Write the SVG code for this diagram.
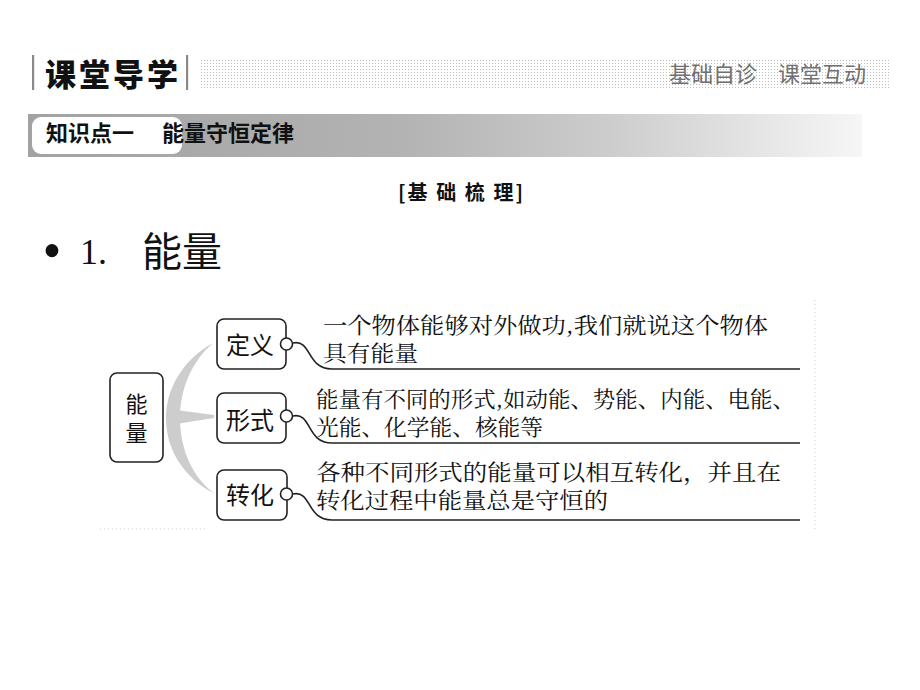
<svg xmlns="http://www.w3.org/2000/svg" width="920" height="690" viewBox="0 0 920 690">
<defs>
<pattern id="dots" x="0" y="0" width="3" height="3" patternUnits="userSpaceOnUse">
<rect x="0" y="0" width="1" height="1" fill="#bdbdbd"/>
</pattern>
<linearGradient id="band" x1="0" y1="0" x2="1" y2="0">
<stop offset="0" stop-color="#a2a2a2"/>
<stop offset="0.45" stop-color="#b3b3b3"/>
<stop offset="0.7" stop-color="#cdcdcd"/>
<stop offset="1" stop-color="#f6f6f6"/>
</linearGradient>
<style>
.cjk{font-family:"Noto Sans CJK SC","Noto Sans CJK JP",sans-serif;}
.song{font-family:"Noto Serif CJK SC","Liberation Serif","Noto Sans CJK SC",serif;font-size:22px;fill:#111;}
.box{fill:#fff;stroke:#222;stroke-width:1.6;}
.knob{fill:#fff;stroke:#222;stroke-width:1.6;}
.conn{fill:none;stroke:#222;stroke-width:1.6;}
.lbl{font-size:24px;text-anchor:middle;}
</style>
</defs>
<rect width="920" height="690" fill="#fff"/>

<!-- header -->
<g id="header">
<rect x="32" y="55" width="2.2" height="35" fill="#8a8a8a"/>
<rect x="186" y="55" width="2.2" height="35" fill="#8a8a8a"/>
<text class="cjk" x="45" y="86" font-size="31" font-weight="900" letter-spacing="3" fill="#111">课堂导学</text>
<rect x="200" y="60" width="690" height="28" fill="url(#dots)"/>
<text class="cjk" x="669" y="82" font-size="22" fill="#707070"><tspan>基础自诊</tspan><tspan x="778">课堂互动</tspan></text>
</g>

<g id="section-band">
<rect x="28" y="114" width="834" height="43" fill="url(#band)"/>
<rect x="32" y="117" width="150" height="37" rx="9" fill="#fff"/>
<text class="cjk" x="46" y="141" font-size="22" font-weight="bold" fill="#111"><tspan>知识点一</tspan><tspan x="162">能量守恒定律</tspan></text>
</g>

<text class="cjk" x="398" y="200" font-size="20" font-weight="bold" textLength="125" lengthAdjust="spacing" fill="#111">[基 础 梳 理]</text>

<g id="title">
<text x="52" y="269" font-family="Liberation Serif, serif" font-size="54" text-anchor="middle" fill="#111">•</text>
<text x="80" y="264" font-family="Liberation Serif, serif" font-size="36" fill="#111">1.</text>
<text class="cjk" x="142" y="266" font-size="40" fill="#111">能量</text>
</g>

<!-- faint frame -->
<g id="frame" stroke="#d0d0d0" stroke-width="1" stroke-dasharray="1 3" fill="none">
<line x1="815" y1="300" x2="815" y2="530"/>
<line x1="100" y1="529" x2="208" y2="529"/>
</g>

<!-- brace -->
<g id="brace" fill="#cdcdcd">
<path d="M213,343 C182,360 166,390 166,418 C166,450 184,478 215,494 C193,478 180,450 180,418 C180,390 191,362 213,343 Z"/>
<path d="M176,410 L214,415 L214,418 L176,424 Z"/>
</g>

<g id="connectors">
<path class="conn" d="M293,343 C312,339 306,369 332,369 L800,369"/>
<path class="conn" d="M293,416 C312,412 306,443 332,443 L800,443"/>
<path class="conn" d="M293,494 C312,490 306,520 332,520 L800,520"/>
</g>

<g id="node-nengliang">
<rect class="box" x="110" y="373" width="53" height="89" rx="7"/>
<text class="cjk" x="136.5" y="412" font-size="22" text-anchor="middle" fill="#111">能</text>
<text class="cjk" x="136.5" y="441" font-size="22" text-anchor="middle" fill="#111">量</text>
</g>

<g id="node-dingyi">
<rect class="box" x="217" y="319" width="69" height="50" rx="7"/>
<text class="cjk lbl" x="250" y="354" fill="#111">定义</text>
<circle class="knob" cx="286.5" cy="344" r="6"/>
</g>

<g id="node-xingshi">
<rect class="box" x="217" y="393" width="69" height="50" rx="7"/>
<text class="cjk lbl" x="250" y="429" fill="#111">形式</text>
<circle class="knob" cx="286.5" cy="416" r="6"/>
</g>

<g id="node-zhuanhua">
<rect class="box" x="217" y="470" width="70" height="50" rx="7"/>
<text class="cjk lbl" x="250" y="504" fill="#111">转化</text>
<circle class="knob" cx="286.5" cy="494" r="6"/>
</g>

<g id="desc-dingyi">
<text class="song" x="323" y="333" textLength="445" lengthAdjust="spacingAndGlyphs">一个物体能够对外做功,我们就说这个物体</text>
<text class="song" x="323" y="361" textLength="95" lengthAdjust="spacingAndGlyphs">具有能量</text>
</g>
<g id="desc-xingshi">
<text class="song" x="316" y="407" textLength="479" lengthAdjust="spacingAndGlyphs">能量有不同的形式,如动能、势能、内能、电能、</text>
<text class="song" x="316" y="435" textLength="227" lengthAdjust="spacingAndGlyphs">光能、化学能、核能等</text>
</g>
<g id="desc-zhuanhua">
<text class="song" x="316" y="480" textLength="465" lengthAdjust="spacingAndGlyphs">各种不同形式的能量可以相互转化，并且在</text>
<text class="song" x="316" y="508" textLength="292" lengthAdjust="spacingAndGlyphs">转化过程中能量总是守恒的</text>
</g>
</svg>
